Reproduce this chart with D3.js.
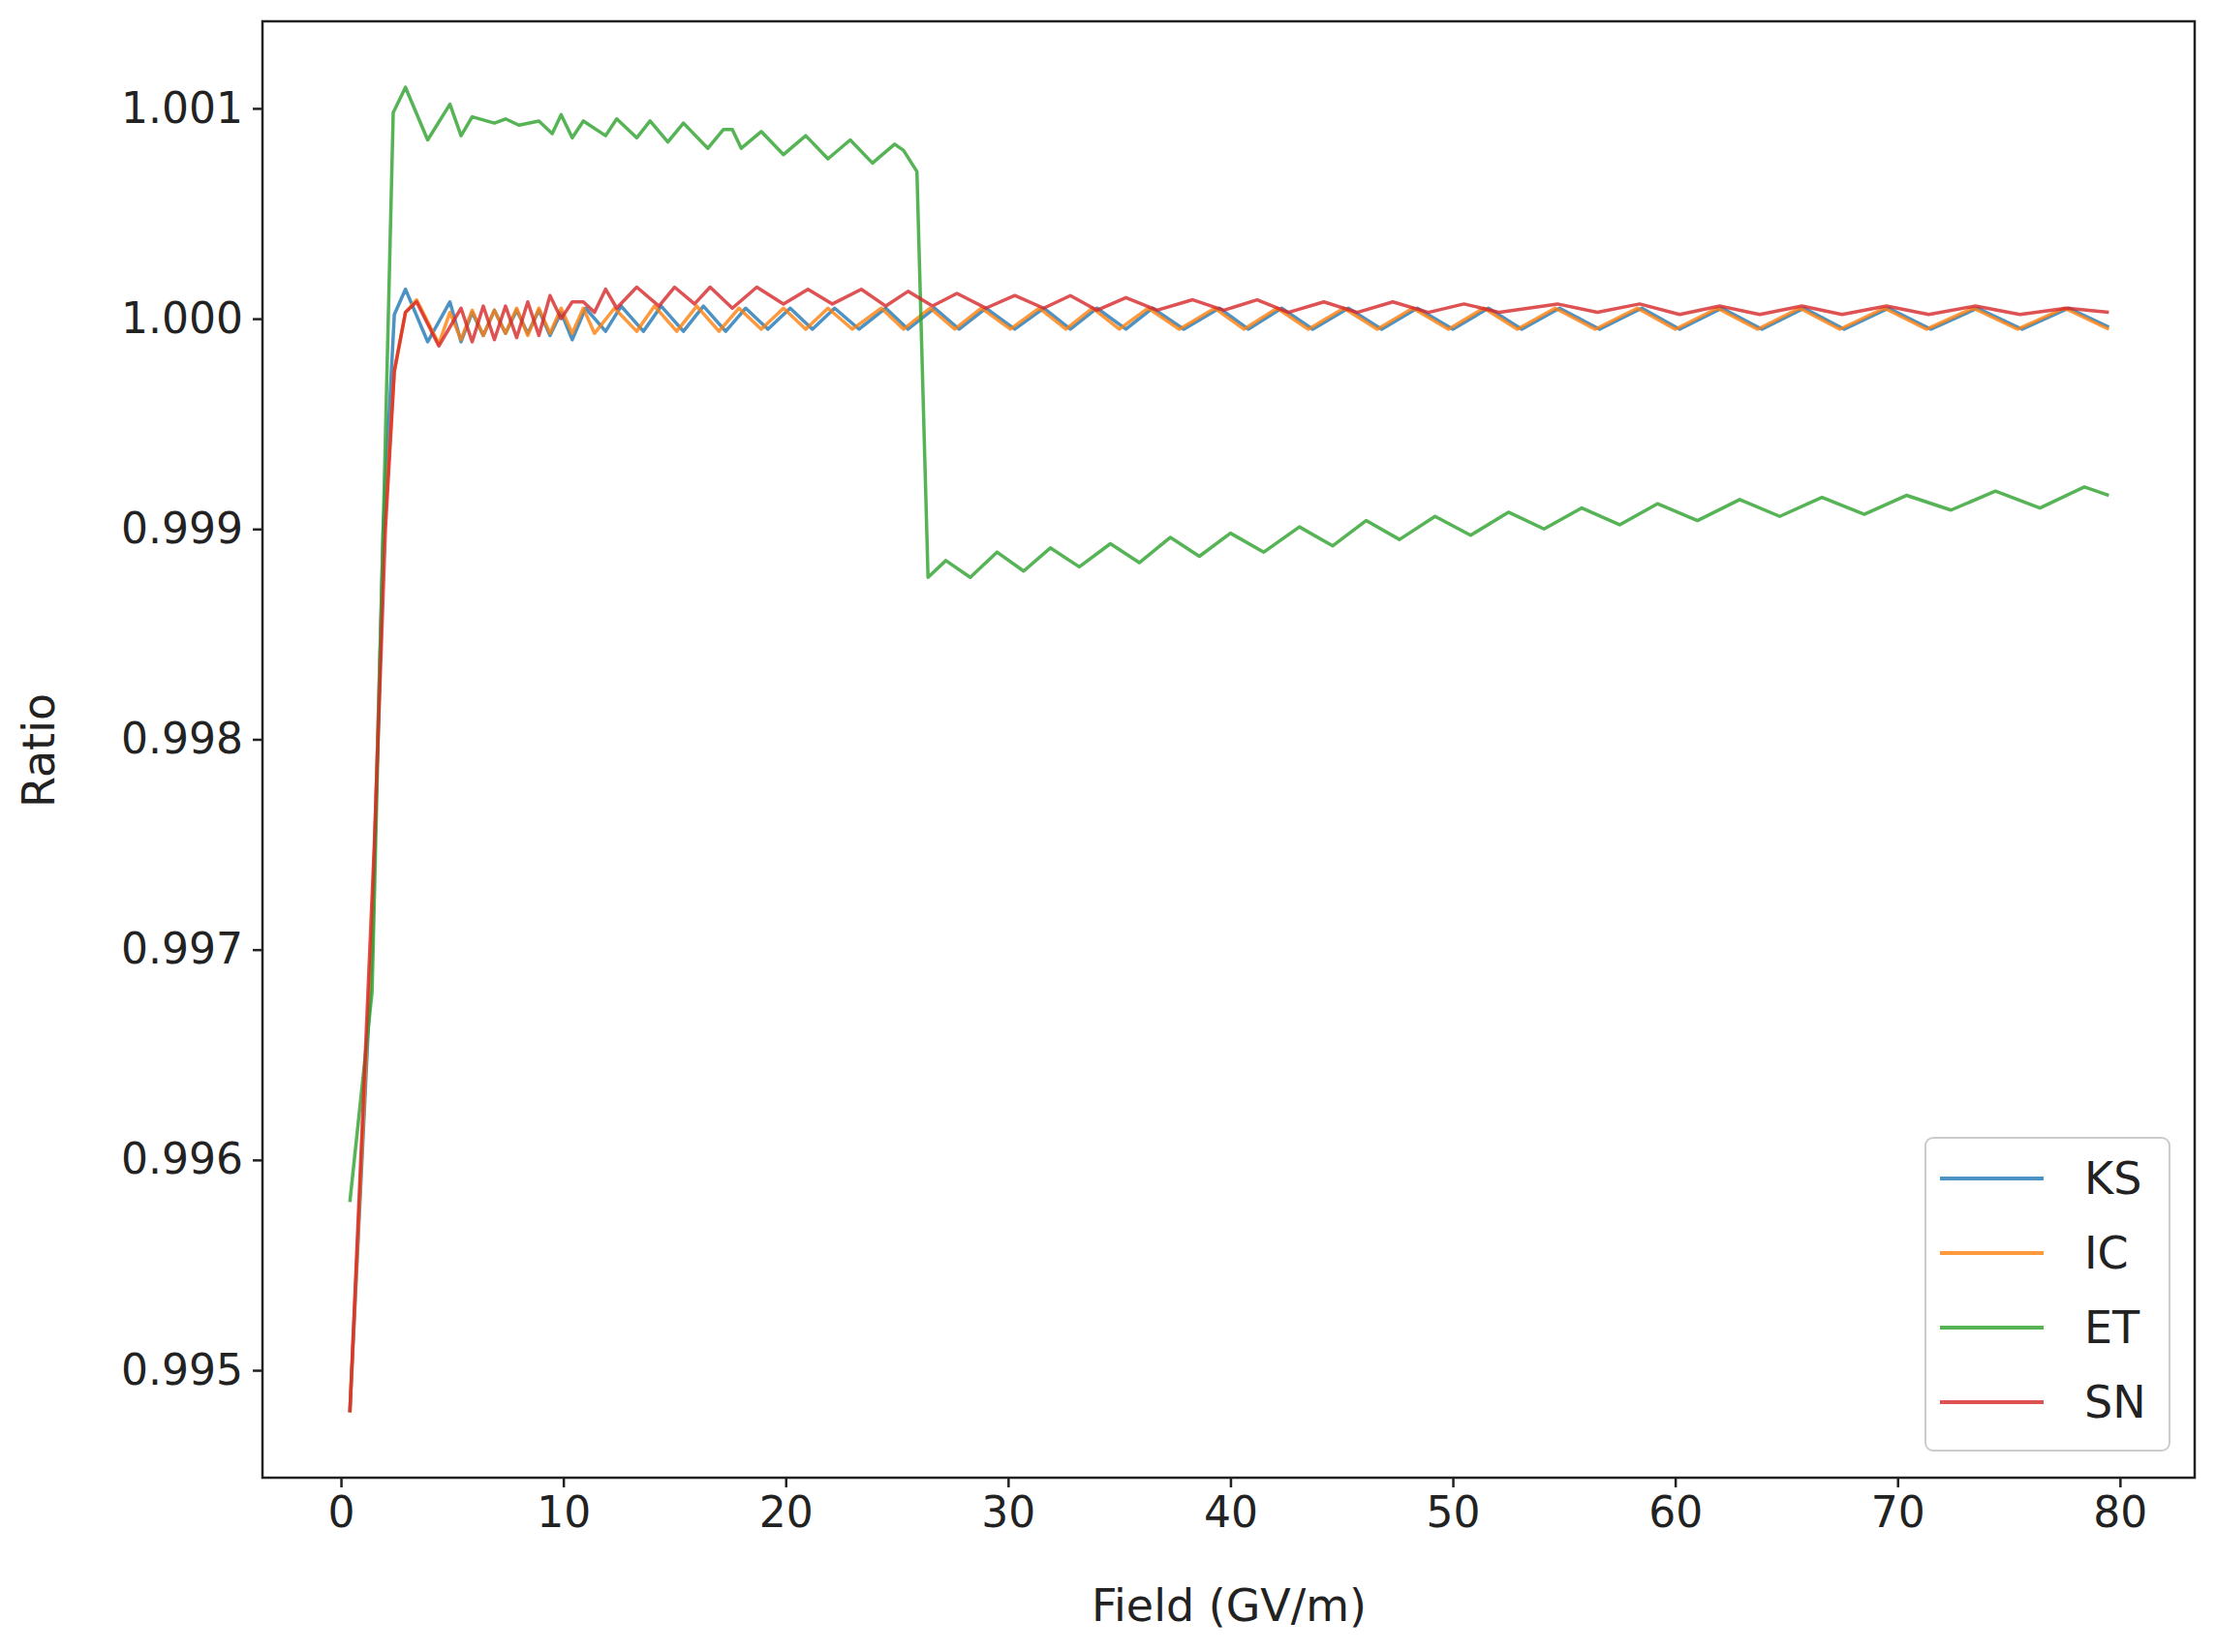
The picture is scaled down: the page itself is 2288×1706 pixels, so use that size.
<!DOCTYPE html>
<html><head><meta charset="utf-8">
<script src="https://cdn.jsdelivr.net/npm/d3@7"></script>
<style>body{margin:0;background:#fff}svg text{font-family:"DejaVu Sans",sans-serif;fill:#222}</style>
</head><body><svg id="c" width="2288" height="1706"></svg>
<script>
const seriesNames = ["KS","IC","ET","SN"];
const colors = ["#1f77b4","#ff7f0e","#2ca02c","#d62728"];
const xTicks = [0,10,20,30,40,50,60,70,80];
const yTicks = [0.995,0.996,0.997,0.998,0.999,1.000,1.001];

const KS = [[0.4,0.9948],[1.4,0.9970],[1.9,0.9990],[2.4,1.00002],[2.9,1.00014],[3.9,0.99989],[4.9,1.00008],[5.4,0.99989],[5.9,1.00003],[6.4,0.99992],[6.9,1.00004],[7.4,0.99993],[7.9,1.00004],[8.4,0.99993],[8.9,1.00004],[9.4,0.99992],[9.9,1.00003],[10.4,0.9999],[11.0,1.00005],[11.9,0.99994],[12.6,1.00006],[13.6,0.99994],[14.4,1.00006],[15.4,0.99994],[16.3,1.00006],[17.3,0.99994],[18.2,1.00005],[19.2,0.99995],[20.2,1.00005],[21.2,0.99995],[22.2,1.00005],[23.3,0.99995],[24.5,1.00005],[25.5,0.99995],[26.7,1.00005],[27.8,0.99995],[29.0,1.00005],[30.3,0.99995],[31.6,1.00005],[32.8,0.99995],[34.0,1.00005],[35.3,0.99995],[36.5,1.00005],[37.9,0.99995],[39.5,1.00005],[40.8,0.99995],[42.3,1.00005],[43.7,0.99995],[45.3,1.00005],[46.8,0.99995],[48.4,1.00005],[50.0,0.99995],[51.6,1.00005],[53.1,0.99995],[54.8,1.00005],[56.6,0.99995],[58.5,1.00005],[60.2,0.99995],[62.1,1.00005],[63.9,0.99995],[65.8,1.00005],[67.6,0.99995],[69.6,1.00005],[71.5,0.99995],[73.6,1.00005],[75.6,0.99995],[77.7,1.00005],[79.5,0.99996]];

const IC = [[0.4,0.9948],[1.4,0.9971],[1.9,0.9989],[2.4,0.99975],[2.9,1.00003],[3.4,1.00009],[4.4,0.99988],[4.9,1.00003],[5.4,0.9999],[5.9,1.00004],[6.4,0.99992],[6.9,1.00004],[7.4,0.99993],[7.9,1.00005],[8.4,0.99992],[8.9,1.00005],[9.4,0.99993],[9.9,1.00005],[10.4,0.99993],[10.9,1.00005],[11.4,0.99993],[12.3,1.00005],[13.3,0.99994],[14.1,1.00006],[15.1,0.99994],[16.0,1.00006],[17.0,0.99994],[17.9,1.00005],[18.9,0.99995],[19.9,1.00005],[20.9,0.99995],[21.9,1.00005],[23.0,0.99995],[24.3,1.00005],[25.3,0.99995],[26.5,1.00005],[27.6,0.99995],[28.8,1.00005],[30.1,0.99995],[31.4,1.00005],[32.6,0.99995],[33.8,1.00005],[35.0,0.99995],[36.3,1.00005],[37.7,0.99995],[39.3,1.00005],[40.6,0.99995],[42.1,1.00005],[43.5,0.99995],[45.1,1.00005],[46.6,0.99995],[48.2,1.00005],[49.8,0.99995],[51.4,1.00005],[52.9,0.99995],[54.6,1.00005],[56.4,0.99995],[58.3,1.00005],[60.0,0.99995],[61.9,1.00005],[63.7,0.99995],[65.6,1.00005],[67.4,0.99995],[69.4,1.00005],[71.3,0.99995],[73.4,1.00005],[75.4,0.99995],[77.5,1.00005],[79.5,0.99995]];

const ET = [[0.4,0.9958],[1.4,0.9968],[2.35,1.00098],[2.9,1.0011],[3.9,1.00085],[4.9,1.00102],[5.4,1.00087],[5.9,1.00096],[6.9,1.00093],[7.4,1.00095],[8.0,1.00092],[8.9,1.00094],[9.5,1.00088],[9.9,1.00097],[10.4,1.00086],[10.9,1.00094],[11.9,1.00087],[12.4,1.00095],[13.3,1.00086],[13.9,1.00094],[14.7,1.00084],[15.4,1.00093],[16.5,1.00081],[17.2,1.0009],[17.6,1.0009],[18.0,1.00081],[18.9,1.00089],[19.9,1.00078],[20.9,1.00087],[21.9,1.00076],[22.9,1.00085],[23.9,1.00074],[24.9,1.00083],[25.3,1.0008],[25.9,1.0007],[26.4,0.99877],[27.2,0.99885],[28.3,0.99877],[29.5,0.99889],[30.7,0.9988],[31.9,0.99891],[33.2,0.99882],[34.6,0.99893],[35.9,0.99884],[37.3,0.99896],[38.6,0.99887],[40.0,0.99898],[41.5,0.99889],[43.1,0.99901],[44.6,0.99892],[46.1,0.99904],[47.6,0.99895],[49.2,0.99906],[50.8,0.99897],[52.5,0.99908],[54.1,0.999],[55.8,0.9991],[57.5,0.99902],[59.2,0.99912],[61.0,0.99904],[62.9,0.99914],[64.7,0.99906],[66.6,0.99915],[68.5,0.99907],[70.4,0.99916],[72.4,0.99909],[74.4,0.99918],[76.4,0.9991],[78.4,0.9992],[79.5,0.99916]];

const SN = [[0.4,0.9948],[1.5,0.9975],[2.0,0.999],[2.4,0.99975],[2.9,1.00003],[3.4,1.00008],[4.4,0.99987],[5.4,1.00005],[5.9,0.99989],[6.4,1.00006],[6.9,0.9999],[7.4,1.00006],[7.9,0.99991],[8.4,1.00008],[8.9,0.99992],[9.4,1.00011],[9.9,1.0],[10.4,1.00008],[10.9,1.00008],[11.4,1.00003],[11.9,1.00014],[12.4,1.00005],[13.3,1.00015],[14.3,1.00006],[15.0,1.00015],[15.9,1.00007],[16.6,1.00015],[17.6,1.00005],[18.7,1.00015],[19.9,1.00007],[21.0,1.00014],[22.1,1.00007],[23.4,1.00014],[24.5,1.00006],[25.5,1.00013],[26.6,1.00006],[27.7,1.00012],[29.0,1.00005],[30.3,1.00011],[31.6,1.00005],[32.8,1.00011],[34.0,1.00004],[35.3,1.0001],[36.7,1.00004],[38.3,1.00009],[39.7,1.00004],[41.2,1.00009],[42.6,1.00003],[44.2,1.00008],[45.7,1.00003],[47.3,1.00008],[48.9,1.00003],[50.5,1.00007],[52.1,1.00003],[54.7,1.00007],[56.5,1.00003],[58.4,1.00007],[60.2,1.00002],[62.0,1.00006],[63.8,1.00002],[65.7,1.00006],[67.5,1.00002],[69.5,1.00006],[71.4,1.00002],[73.5,1.00006],[75.5,1.00002],[77.6,1.00005],[79.5,1.00003]];

const data = [KS, IC, ET, SN];
const svg = d3.select("#c");
const L=271,R=2266,T=22,B=1526;
const x = d3.scaleLinear().domain([-3.53,83.36]).range([L,R]);
const y = d3.scaleLinear().domain([0.994489,1.001414]).range([B,T]);

const gx = svg.append("g").attr("transform",`translate(0,${B})`)
  .call(d3.axisBottom(x).tickValues(xTicks).tickFormat(d3.format("d")).tickSize(10).tickPadding(10));
const gy = svg.append("g").attr("transform",`translate(${L},0)`)
  .call(d3.axisLeft(y).tickValues(yTicks).tickFormat(d3.format(".3f")).tickSize(10).tickPadding(10));
[gx,gy].forEach(g=>{g.select(".domain").remove();g.selectAll("line").attr("stroke","#222").attr("stroke-width",2.5);
  g.selectAll("text").attr("font-size",44).attr("font-family","DejaVu Sans").attr("fill","#222");});

const line = d3.line().x(d=>x(d[0])).y(d=>y(d[1]));
data.forEach((s,i)=>svg.append("path").datum(s).attr("d",line).attr("fill","none")
  .attr("stroke",colors[i]).attr("stroke-opacity",0.8).attr("stroke-width",3.5).attr("stroke-linejoin","round"));

svg.append("rect").attr("x",L).attr("y",T).attr("width",R-L).attr("height",B-T)
  .attr("fill","none").attr("stroke","#222").attr("stroke-width",2.5);

svg.append("text").attr("x",1269).attr("y",1674).attr("text-anchor","middle").attr("font-size",46).text("Field (GV/m)");
svg.append("text").attr("transform","translate(56,775) rotate(-90)").attr("text-anchor","middle").attr("font-size",46).text("Ratio");

const lg = svg.append("g");
lg.append("rect").attr("x",1988).attr("y",1175).attr("width",252).attr("height",323).attr("rx",8)
  .attr("fill","#fff").attr("fill-opacity",0.8).attr("stroke","#ccc").attr("stroke-width",2);
seriesNames.forEach((n,i)=>{
  const yy = 1217 + i*77;
  lg.append("line").attr("x1",2003).attr("x2",2110).attr("y1",yy).attr("y2",yy)
    .attr("stroke",colors[i]).attr("stroke-opacity",0.8).attr("stroke-width",4);
  lg.append("text").attr("x",2152).attr("y",yy+16).attr("font-size",46).text(n);
});
</script></body></html>
